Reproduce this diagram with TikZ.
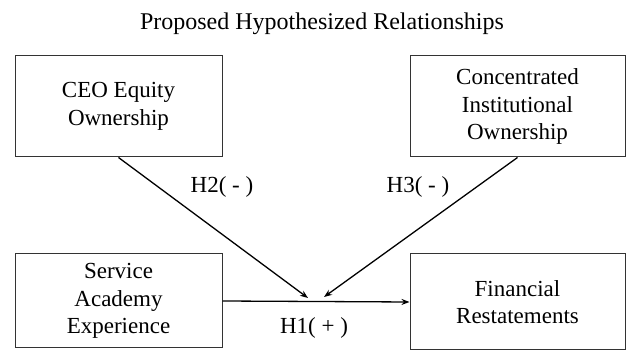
\documentclass[tikz,border=0pt]{standalone}
\usepackage{fontspec}
\setmainfont{Liberation Serif}
\usetikzlibrary{arrows.meta,positioning,calc}

\begin{document}
\begin{tikzpicture}[x=1pt, y=-1pt, >={Stealth[length=8pt,width=6pt]}, line width=1.3pt,
  box/.style={draw=black!80, line width=1pt, align=center, inner sep=0pt,
    font=\fontsize{23}{27.5}\selectfont},
  hyp/.style={font=\fontsize{23}{27.5}\selectfont}]
  \useasboundingbox (0,0) rectangle (627,355);
  \node[font=\fontsize{24}{28}\selectfont] (title) at (322,24) {Proposed Hypothesized Relationships};
  \node[box, minimum width=207pt, minimum height=101pt] (ceo) at (118.5,106.5) {CEO Equity\\Ownership};
  \node[box, minimum width=215pt, minimum height=101pt] (inst) at (517.5,106.5) {Concentrated\\Institutional\\Ownership};
  \node[box, minimum width=207pt, minimum height=94pt] (serv) at (118.5,301) {Service\\Academy\\Experience};
  \node[box, minimum width=215pt, minimum height=96pt] (fin) at (517.5,302) {Financial\\Restatements};
  \coordinate (h2end) at (308,298);
  \coordinate (h3end) at (324,297);
  \draw[->] (serv.east) -- (fin.west);
  \draw[->] (ceo.south) -- (h2end);
  \draw[->] (inst.south) -- (h3end);
  \node[hyp] (h2) at (222,187) {H2( - )};
  \node[hyp] (h3) at (418,187) {H3( - )};
  \node[hyp] (h1) at (314,328) {H1( + )};
\end{tikzpicture}
\end{document}
